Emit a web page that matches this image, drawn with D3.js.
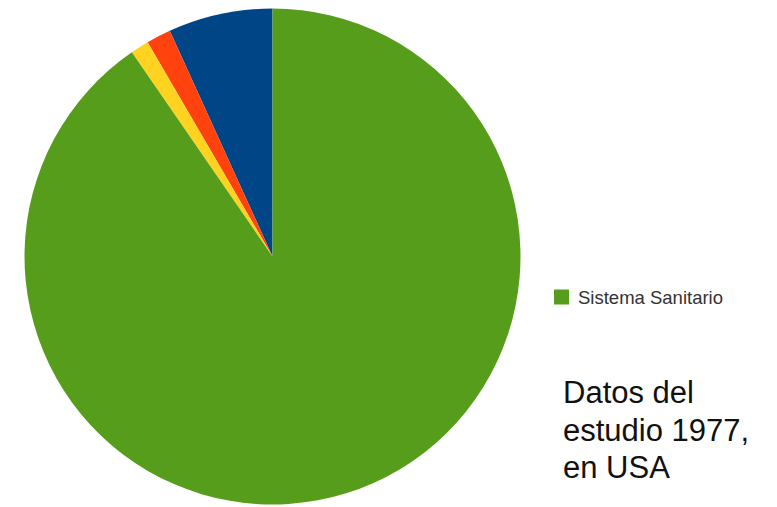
<!DOCTYPE html>
<html>
<head>
<meta charset="utf-8">
<script src="https://cdn.jsdelivr.net/npm/d3@7"></script>
<style>
html,body{margin:0;padding:0;background:#fff;}
svg{display:block;}
</style>
</head>
<body>
<svg id="chart" width="777" height="507"></svg>
<script>
const categories = ["Biología humana", "Medio ambiente", "Estilo de vida", "Sistema Sanitario"];
const values = [6.8, 1.6, 1.2, 90.4];
const colors = ["#004586", "#ff420e", "#ffd320", "#579d1c"];
const legendItems = ["Sistema Sanitario"];
const noteLines = ["Datos del", "estudio 1977,", "en USA"];

const svg = d3.select("#chart");
const cx = 272.5, cy = 256.5, r = 248;

const data = categories.map((c, i) => ({cat: c, value: values[i], color: colors[i]}));

// Start at top, go counter-clockwise
const pie = d3.pie().sort(null).value(d => d.value)
  .startAngle(0).endAngle(-2 * Math.PI);
const arc = d3.arc().innerRadius(0).outerRadius(r);

svg.append("g").attr("transform", `translate(${cx},${cy})`)
  .selectAll("path").data(pie(data)).join("path")
  .attr("d", arc)
  .attr("fill", d => d.data.color);

const color = d3.scaleOrdinal().domain(categories).range(colors);
const lg = svg.append("g").attr("transform", "translate(554,289.5)");
legendItems.forEach((name, i) => {
  const g = lg.append("g").attr("transform", `translate(0,${i * 24})`);
  g.append("rect").attr("width", 15).attr("height", 15).attr("fill", color(name));
  g.append("text").attr("x", 24).attr("y", 14.5)
    .attr("font-family", "Liberation Sans, Arial, sans-serif")
    .attr("font-size", 18.5).attr("fill", "#333")
    .text(name);
});

const note = svg.append("text")
  .attr("font-family", "Liberation Sans, Arial, sans-serif")
  .attr("font-size", 31).attr("fill", "#111");
noteLines.forEach((t, i) => {
  note.append("tspan").attr("x", 563).attr("y", 403 + i * 37.5).text(t);
});
</script>
</body>
</html>
